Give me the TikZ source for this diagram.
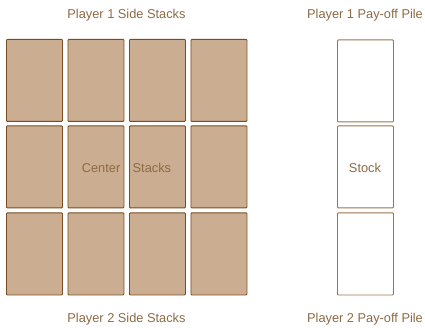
\documentclass[tikz,border=0pt]{standalone}
\usepackage{fontspec}
\setmainfont{Liberation Sans}
\definecolor{cardfill}{HTML}{CBAE92}
\definecolor{cardline}{HTML}{7A4C20}
\definecolor{pileline}{HTML}{9A7650}
\definecolor{txt}{HTML}{8C6A44}
\tikzset{
  card/.style={draw=cardline, fill=cardfill, line width=0.9pt, rounded corners=0.8pt, minimum width=56pt, minimum height=82pt, inner sep=0pt, anchor=north west},
  pile/.style={draw=pileline, fill=white, line width=0.9pt, rounded corners=0.8pt, minimum width=56pt, minimum height=82pt, inner sep=0pt, anchor=north west},
  lbl/.style={text=txt, font=\fontsize{12.8}{14}\selectfont, inner sep=0pt}
}
\begin{document}
\begin{tikzpicture}[x=1pt,y=-1pt]
\useasboundingbox (0,0) rectangle (425,328);
\foreach \r/\yy in {1/39,2/125.5,3/212.5}{
  \foreach \c/\xx in {1/6,2/67.5,3/129,4/190.5}{
    \node[card] (c\r\c) at (\xx,\yy) {};
  }
}
\node[pile] (p1) at (337,39.5) {};
\node[pile] (stock) at (337,125.5) {};
\node[pile] (p2) at (337,212.5) {};
\node[lbl] (t1) at (126.5,15) {Player 1 Side Stacks};
\node[lbl] (t2) at (365,15) {Player 1 Pay-off Pile};
\node[lbl] (b1) at (126.5,319) {Player 2 Side Stacks};
\node[lbl] (b2) at (365,319) {Player 2 Pay-off Pile};
\node[lbl, anchor=east] (cen) at (120.5,168) {Center};
\node[lbl, anchor=west] (stk) at (132.5,168) {Stacks};
\node[lbl] (st) at (365,168) {Stock};
\end{tikzpicture}
\end{document}
